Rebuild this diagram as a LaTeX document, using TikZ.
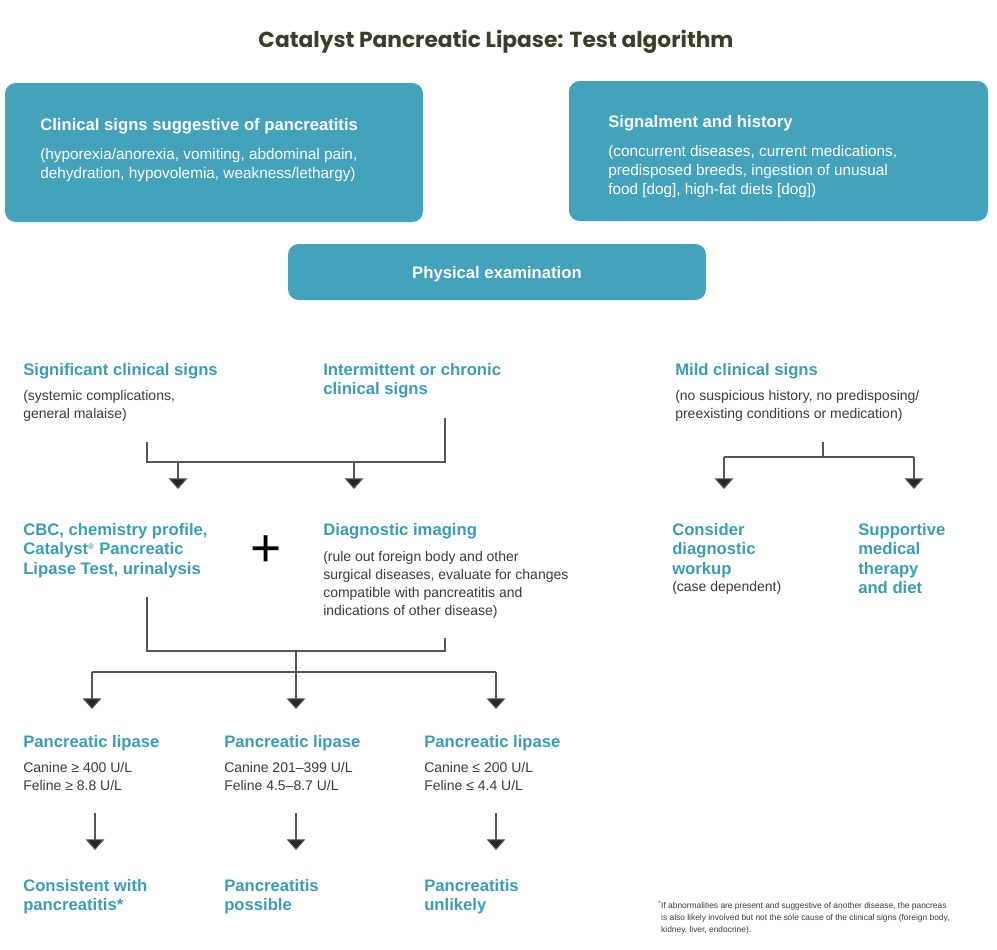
\documentclass[tikz,border=0pt]{standalone}
\usepackage{fontspec}
\setmainfont{Liberation Sans}
\newfontfamily\titlefont{Poppins}
\usetikzlibrary{arrows.meta, positioning}

\definecolor{boxTeal}{HTML}{44A3BB}
\definecolor{headTeal}{HTML}{3A9DB8}
\definecolor{titleDark}{HTML}{3D3D2A}
\definecolor{bodyGray}{HTML}{3A3A3A}
\definecolor{lineGray}{HTML}{555555}

\tikzset{
	box/.style = {fill = boxTeal, rounded corners = 8pt, draw = none},
	head/.style = {anchor = north west, inner sep = 0pt, align = left, text = headTeal, font = \fontsize{12.5}{14.6}\selectfont\bfseries},
	body/.style = {anchor = north west, inner sep = 0pt, align = left, text = bodyGray, font = \fontsize{10.5}{13.4}\selectfont},
	link/.style = {draw = lineGray, line width = 0.8pt},
	flow/.style = {link, -{Triangle[width = 14pt, length = 8pt, fill = black!85]}}
}

\begin{document}
\begin{tikzpicture}[x = 0.75pt, y = -0.75pt]

		% page frame
		\useasboundingbox (0, 0) rectangle (997, 950);

		% title
		\node[text = titleDark, font = \titlefont\fontsize{16.3}{18}\selectfont\bfseries] (title) at (496, 42) {Catalyst Pancreatic Lipase: Test algorithm};

		% teal boxes
		\draw[box] (5, 83) rectangle (423, 222);
		\draw[box] (569, 81) rectangle (988, 221);
		\draw[box] (288, 244) rectangle (706, 300);
		\node[head, text = white] (clinT) at (40, 118) {Clinical signs suggestive of pancreatitis};
		\node[body, text = white, font = \fontsize{11.5}{14.4}\selectfont] (clinB) at (40, 148) {(hyporexia/anorexia, vomiting, abdominal pain,\\dehydration, hypovolemia, weakness/lethargy)};
		\node[head, text = white] (signT) at (608, 115) {Signalment and history};
		\node[body, text = white, font = \fontsize{11.5}{14.4}\selectfont] (signB) at (608, 145) {(concurrent diseases, current medications,\\predisposed breeds, ingestion of unusual\\food [dog], high-fat diets [dog])};
		\node[text = white, font = \fontsize{12.5}{14.6}\selectfont\bfseries] (phys) at (497, 274) {Physical examination};

		% clinical sign groups
		\node[head] (sigT) at (23, 363) {Significant clinical signs};
		\node[body] (sigB) at (23, 390) {(systemic complications,\\general malaise)};
		\node[head] (intT) at (323, 363) {Intermittent or chronic\\clinical signs};
		\node[head] (mildT) at (675, 363) {Mild clinical signs};
		\node[body] (mildB) at (675, 390) {(no suspicious history, no predisposing/\\preexisting conditions or medication)};

		% workup
		\node[head] (cbc) at (23, 523) {CBC, chemistry profile,\\Catalyst\textsuperscript{\fontsize{6}{6}\selectfont\textregistered} Pancreatic\\Lipase Test, urinalysis};
		\node[font = \fontsize{40}{40}\selectfont, inner sep = 0pt] (plus) at (266, 551) {+};
		\node[head] (imgT) at (323, 523) {Diagnostic imaging};
		\node[body] (imgB) at (323, 551) {(rule out foreign body and other\\surgical diseases, evaluate for changes\\compatible with pancreatitis and\\indications of other disease)};
		\node[head] (cons) at (672, 523) {Consider\\diagnostic\\workup};
		\node[body] (consB) at (672, 581) {(case dependent)};
		\node[head] (supp) at (858, 523) {Supportive\\medical\\therapy\\and diet};

		% lipase results
		\node[head] (lipA) at (23, 735) {Pancreatic lipase};
		\node[body] (lipAB) at (23, 762) {Canine \symbol{"2265} 400 U/L\\Feline \symbol{"2265} 8.8 U/L};
		\node[head] (lipB) at (224, 735) {Pancreatic lipase};
		\node[body] (lipBB) at (224, 762) {Canine 201\textendash399 U/L\\Feline 4.5\textendash8.7 U/L};
		\node[head] (lipC) at (424, 735) {Pancreatic lipase};
		\node[body] (lipCB) at (424, 762) {Canine \symbol{"2264} 200 U/L\\Feline \symbol{"2264} 4.4 U/L};

		% outcomes
		\node[head] (outA) at (23, 879) {Consistent with\\pancreatitis*};
		\node[head] (outB) at (224, 879) {Pancreatitis\\possible};
		\node[head] (outC) at (424, 879) {Pancreatitis\\unlikely};
		\node[body, font = \fontsize{6.3}{9}\selectfont] (note) at (658, 901) {\textsuperscript{*}If abnormalities are present and suggestive of another disease, the pancreas\\\hphantom{\textsuperscript{*}}is also likely involved but not the sole cause of the clinical signs (foreign body,\\\hphantom{\textsuperscript{*}}kidney, liver, endocrine).};

		% connector coordinates
		\coordinate (s1) at (147, 442);
		\coordinate (s2) at (445, 418);
		\coordinate (j1) at (178, 462);
		\coordinate (j2) at (354, 462);
		\coordinate (a1) at (178, 489);
		\coordinate (a2) at (354, 489);
		\coordinate (m0) at (823, 442);
		\coordinate (m1) at (724, 457);
		\coordinate (m2) at (914, 457);
		\coordinate (b1) at (724, 489);
		\coordinate (b2) at (914, 489);
		\coordinate (c1) at (147, 597);
		\coordinate (c2) at (445, 638);
		\coordinate (c3) at (296, 651);
		\coordinate (d1) at (92, 672);
		\coordinate (d3) at (496, 672);
		\coordinate (e1) at (92, 709);
		\coordinate (e2) at (296, 709);
		\coordinate (e3) at (496, 709);

		% connectors upper
		\draw[link] (s1) |- (j2) -| (s2);
		\draw[flow] (j1) -- (a1);
		\draw[flow] (j2) -- (a2);
		\draw[link] (m0) -- (m0 |- m1);
		\draw[link] (m1) -- (m2);
		\draw[flow] (m1) -- (b1);
		\draw[flow] (m2) -- (b2);

		% connectors lower
		\draw[link] (c1) |- (c3) -| (c2);
		\draw[link] (c3) -- (c3 |- d1);
		\draw[link] (d1) -- (d3);
		\draw[flow] (d1) -- (e1);
		\draw[flow] (c3 |- d1) -- (e2);
		\draw[flow] (d3) -- (e3);

		% result arrows
		\foreach \xx in {95, 296, 496} {
			\draw[flow] (\xx, 813) -- (\xx, 850);
		}

	\end{tikzpicture}
\end{document}
